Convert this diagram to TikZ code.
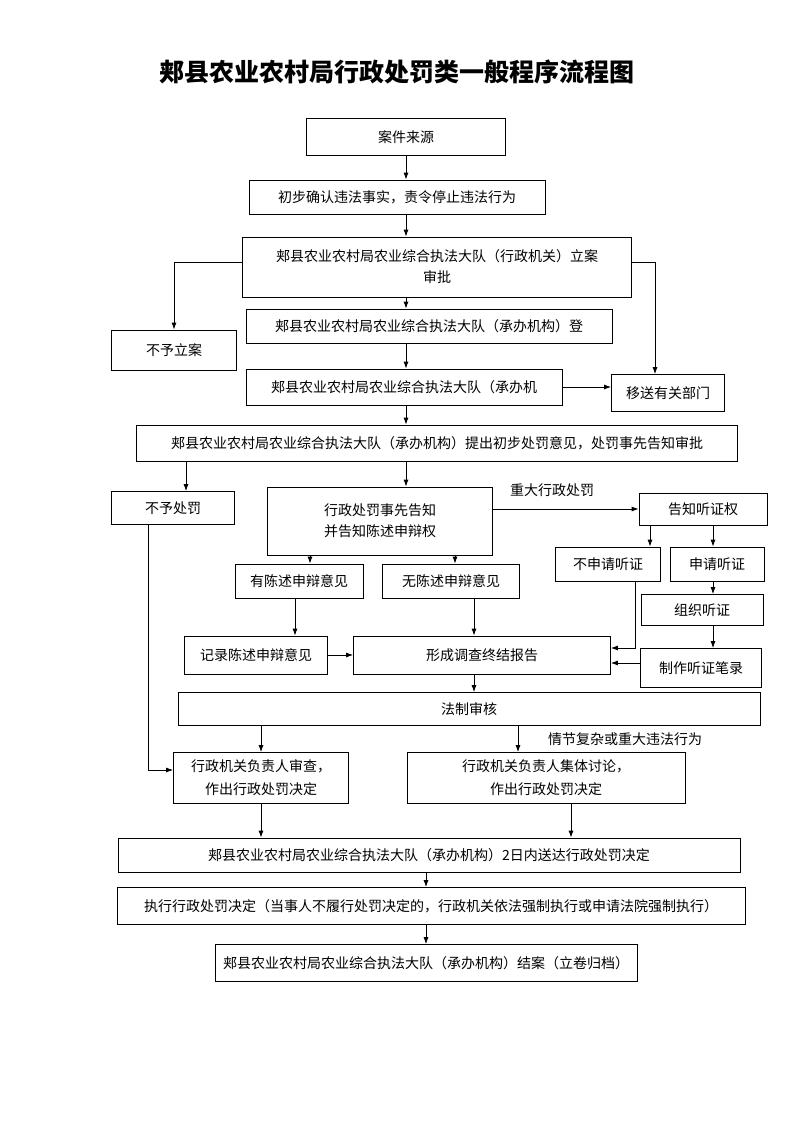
\documentclass[tikz,border=0pt]{standalone}
\usepackage{fontspec}
\setmainfont{Noto Sans CJK SC}
\usetikzlibrary{arrows.meta,positioning,calc}
\tikzset{
  procbox/.style={
    rectangle, draw=black, thick, align=center, inner sep=2pt,
    font=\fontsize{14}{21}\selectfont
  },
  %
  arr/.style={
    -{Latex[length=7pt,width=5pt]}, thick
  },
  %
  note/.style={
    font=\fontsize{14}{16}\selectfont
  }
}

\begin{document}
\begin{tikzpicture}[x=1pt,y=-1pt]
\useasboundingbox[fill=white] (0,0) rectangle (793,1122);
\node(title)[font=\fontsize{25}{30}\selectfont\bfseries] at (397,72) {郏县农业农村局行政处罚类一般程序流程图};

\node(source)[procbox, minimum width=199, minimum height=37] at (406,137) {案件来源};
\node(confirm)[procbox, minimum width=296, minimum height=34] at (397,197) {初步确认违法事实，责令停止违法行为};
\node(approve)[procbox, minimum width=389, minimum height=60] at (437,267) {郏县农业农村局农业综合执法大队（行政机关）立案\\审批};
\node(noreg)[procbox, minimum width=125, minimum height=40] at (174,350) {不予立案};
\node(register)[procbox, minimum width=366, minimum height=34] at (429,326) {郏县农业农村局农业综合执法大队（承办机构）登};
\node(survey)[procbox, minimum width=316, minimum height=36] at (404,387) {郏县农业农村局农业综合执法大队（承办机};
\node(transfer)[procbox, minimum width=113, minimum height=37] at (668,393) {移送有关部门};
\node(propose)[procbox, minimum width=601, minimum height=36] at (437,443) {郏县农业农村局农业综合执法大队（承办机构）提出初步处罚意见，处罚事先告知审批};

\node(nopunish)[procbox, minimum width=123, minimum height=33] at (173,508) {不予处罚};
\node(inform)[procbox, minimum width=225, minimum height=68] at (380,521) {行政处罚事先告知\\并告知陈述申辩权};
\node(hearright)[procbox, minimum width=128, minimum height=32] at (703,509) {告知听证权};
\node(nohear)[procbox, minimum width=105, minimum height=34] at (608,564) {不申请听证};
\node(askhear)[procbox, minimum width=94, minimum height=34] at (717,564) {申请听证};
\node(orghear)[procbox, minimum width=122, minimum height=31] at (702,610) {组织听证};
\node(record)[procbox, minimum width=121, minimum height=39] at (701,668) {制作听证笔录};
\node(plea)[procbox, minimum width=128, minimum height=34] at (299,581) {有陈述申辩意见};
\node(noplea)[procbox, minimum width=137, minimum height=34] at (451,581) {无陈述申辩意见};
\node(keepplea)[procbox, minimum width=143, minimum height=38] at (256,655) {记录陈述申辩意见};
\node(report)[procbox, minimum width=257, minimum height=38] at (482,655) {形成调查终结报告};
\node(review)[procbox, minimum width=582, minimum height=33] at (469,709) {法制审核};
\node(check)[procbox, minimum width=175, minimum height=51, font=\fontsize{14}{23}\selectfont] at (261,778) {行政机关负责人审查，\\作出行政处罚决定};
\node(discuss)[procbox, minimum width=278, minimum height=51, font=\fontsize{14}{23}\selectfont] at (546,778) {行政机关负责人集体讨论，\\作出行政处罚决定};
\node(deliver)[procbox, minimum width=622, minimum height=34] at (429,855) {郏县农业农村局农业综合执法大队（承办机构）2日内送达行政处罚决定};
\node(execute)[procbox, minimum width=628, minimum height=37] at (431,906) {执行行政处罚决定（当事人不履行处罚决定的，行政机关依法强制执行或申请法院强制执行）};
\node(close)[procbox, minimum width=422, minimum height=37] at (426,963) {郏县农业农村局农业综合执法大队（承办机构）结案（立卷归档）};

\node(major)[note] at (552,490) {重大行政处罚};
\node(complex)[note] at (625,739) {情节复杂或重大违法行为};

% main column
\draw[arr] (source) -- (source |- confirm.north);
\draw[arr] (source |- confirm.south) -- (source |- approve.north);
\draw[arr] (source |- approve.south) -- (source |- register.north);
\draw[arr] (source |- register.south) -- (source |- survey.north);
\draw[arr] (source |- survey.south) -- (source |- propose.north);
\draw[arr] (approve.west) ++(0,-5) -| (noreg.north);
\draw[arr] (approve.east) ++(0,-5) -| ([xshift=-13]transfer.north);
\draw[arr] (survey.east) -- (survey.east -| transfer.west);
% punishment branch
\draw[arr] ([xshift=13]nopunish.north |- propose.south) -- ([xshift=13]nopunish.north);
\draw[arr] ([xshift=26]inform.north |- propose.south) -- ([xshift=26]inform.north);
\draw[arr] (inform.east |- hearright) -- (hearright);
\draw[arr] ([xshift=-53]hearright.south) -- ([xshift=-53]hearright.south |- nohear.north);
\draw[arr] ([xshift=10]hearright.south) -- ([xshift=10]hearright.south |- askhear.north);
\draw[arr] ([xshift=10]hearright.south |- askhear.south) -- ([xshift=10]hearright.south |- orghear.north);
\draw[arr] ([xshift=10]hearright.south |- orghear.south) -- ([xshift=10]hearright.south |- record.north);
\draw[arr] ([xshift=-70]inform.south) -- ([xshift=-70]inform.south |- plea.north);
\draw[arr] ([xshift=75]inform.south) -- ([xshift=75]inform.south |- noplea.north);
\draw[arr] ([xshift=-4]plea.south) -- ([xshift=-4]plea.south |- keepplea.north);
\draw[arr] ([xshift=23]noplea.south) -- ([xshift=23]noplea.south |- report.north);
\draw[arr] (keepplea) -- (report);
\draw[arr] ([xshift=27]nohear.south) |- ([yshift=7]report.east);
\draw[arr] ([yshift=5]record.west) -- ([yshift=-8]report.east);
\draw[arr] ([xshift=-8]report.south) -- ([xshift=-8]report.south |- review.north);
% decisions
\draw[arr] ([xshift=-25]nopunish.south) |- ([yshift=8]check.west);
\draw[arr] (check.north |- review.south) -- (check.north);
\draw[arr] ([xshift=-28]discuss.north |- review.south) -- ([xshift=-28]discuss.north);
\draw[arr] (check.south) -- (check.south |- deliver.north);
\draw[arr] ([xshift=25]discuss.south) -- ([xshift=25]discuss.south |- deliver.north);
\draw[arr] (deliver.south -| close) -- (close |- execute.north);
\draw[arr] (execute.south -| close) -- (close.north);
\end{tikzpicture}
\end{document}
